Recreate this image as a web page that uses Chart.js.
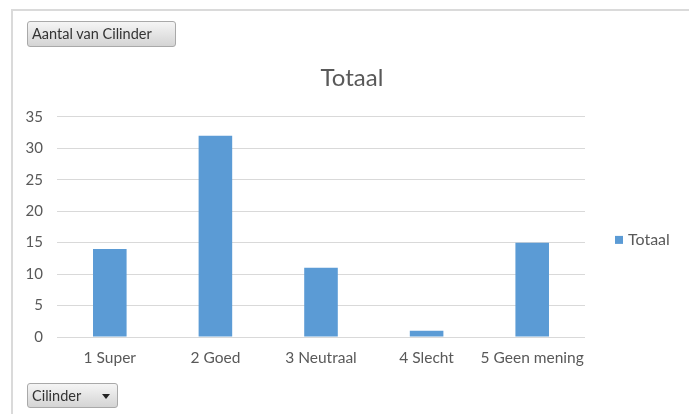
<!DOCTYPE html>
<html><head><meta charset="utf-8">
<script src="https://cdn.jsdelivr.net/npm/chart.js@4"></script>
<style>
html,body{margin:0;padding:0;background:#fff;}
#wrap{position:relative;width:689px;height:414px;overflow:hidden;}
#frame{position:absolute;left:11px;top:9px;width:700px;height:420px;border-left:2px solid #dadada;border-top:2px solid #dadada;box-sizing:border-box;}
canvas{position:absolute;left:0;top:0;}
.btn{position:absolute;box-sizing:border-box;border:1px solid #a9a9a9;border-radius:3px;background:linear-gradient(#f5f5f5,#d4d4d4);font:14.5px Lato,sans-serif;color:#333;padding-left:4px;white-space:nowrap;}
#b1{left:27px;top:21px;width:149px;height:26px;line-height:24px;}
#b2{left:27px;top:383px;width:91px;height:25px;line-height:23px;}
#arrow{position:absolute;left:74px;top:10px;width:0;height:0;border-left:4px solid transparent;border-right:4px solid transparent;border-top:5px solid #222;}
</style></head>
<body>
<div id="wrap">
<canvas id="c" width="689" height="414"></canvas>
<div id="frame"></div>
<div class="btn" id="b1">Aantal van Cilinder</div>
<div class="btn" id="b2">Cilinder<span id="arrow"></span></div>
</div>
<script>
const categories = ['1 Super', '2 Goed', '3 Neutraal', '4 Slecht', '5 Geen mening'];
const totaal = [14, 32, 11, 1, 15];
const seriesName = 'Totaal';
const chartTitle = 'Totaal';
const yMax = 35;
const yStep = 5;

const sideLegend = {
  id: 'sideLegend',
  afterDraw(chart) {
    const ctx = chart.ctx;
    const ds = chart.data.datasets[0];
    const a = chart.chartArea;
    const x = a.right + 30;
    const y = (a.top + a.bottom) / 2 + 13;
    ctx.save();
    ctx.fillStyle = ds.backgroundColor;
    ctx.fillRect(x, y - 4, 8, 8);
    ctx.fillStyle = '#595959';
    ctx.font = '16px Lato';
    ctx.textBaseline = 'middle';
    ctx.textAlign = 'left';
    ctx.fillText(ds.label, x + 13, y);
    ctx.restore();
  }
};

new Chart(document.getElementById('c'), {
  type: 'bar',
  data: {
    labels: categories,
    datasets: [{
      label: seriesName,
      data: totaal,
      backgroundColor: '#5b9bd5',
      borderWidth: 0,
      barPercentage: 0.318,
      categoryPercentage: 1
    }]
  },
  options: {
    responsive: false,
    animation: false,
    layout: { padding: { left: 15, right: 0, top: 0, bottom: 47 } },
    plugins: {
      legend: { display: false },
      tooltip: { enabled: false },
      title: {
        display: true,
        text: chartTitle,
        color: '#595959',
        font: { family: 'Lato', size: 24, weight: 'normal' },
        padding: { top: 64, bottom: 24 }
      }
    },
    scales: {
      x: {
        grid: { display: false, drawTicks: false },
        border: { display: false },
        ticks: { color: '#595959', font: { family: 'Lato', size: 15.5 }, padding: 12, maxRotation: 0, autoSkip: false },
        afterFit(s) { s.height = 30; }
      },
      y: {
        min: 0, max: yMax,
        grid: { color: '#d9d9d9', drawTicks: false },
        border: { display: false },
        ticks: { stepSize: yStep, color: '#595959', font: { family: 'Lato', size: 15 }, padding: 14 },
        afterFit(s) { s.width = 42; }
      },
      yR: {
        type: 'linear',
        position: 'right',
        display: true,
        grid: { display: false, drawTicks: false },
        border: { display: false },
        ticks: { display: false },
        afterFit(s) { s.width = 104; }
      }
    }
  },
  plugins: [sideLegend]
});
</script>
</body></html>
